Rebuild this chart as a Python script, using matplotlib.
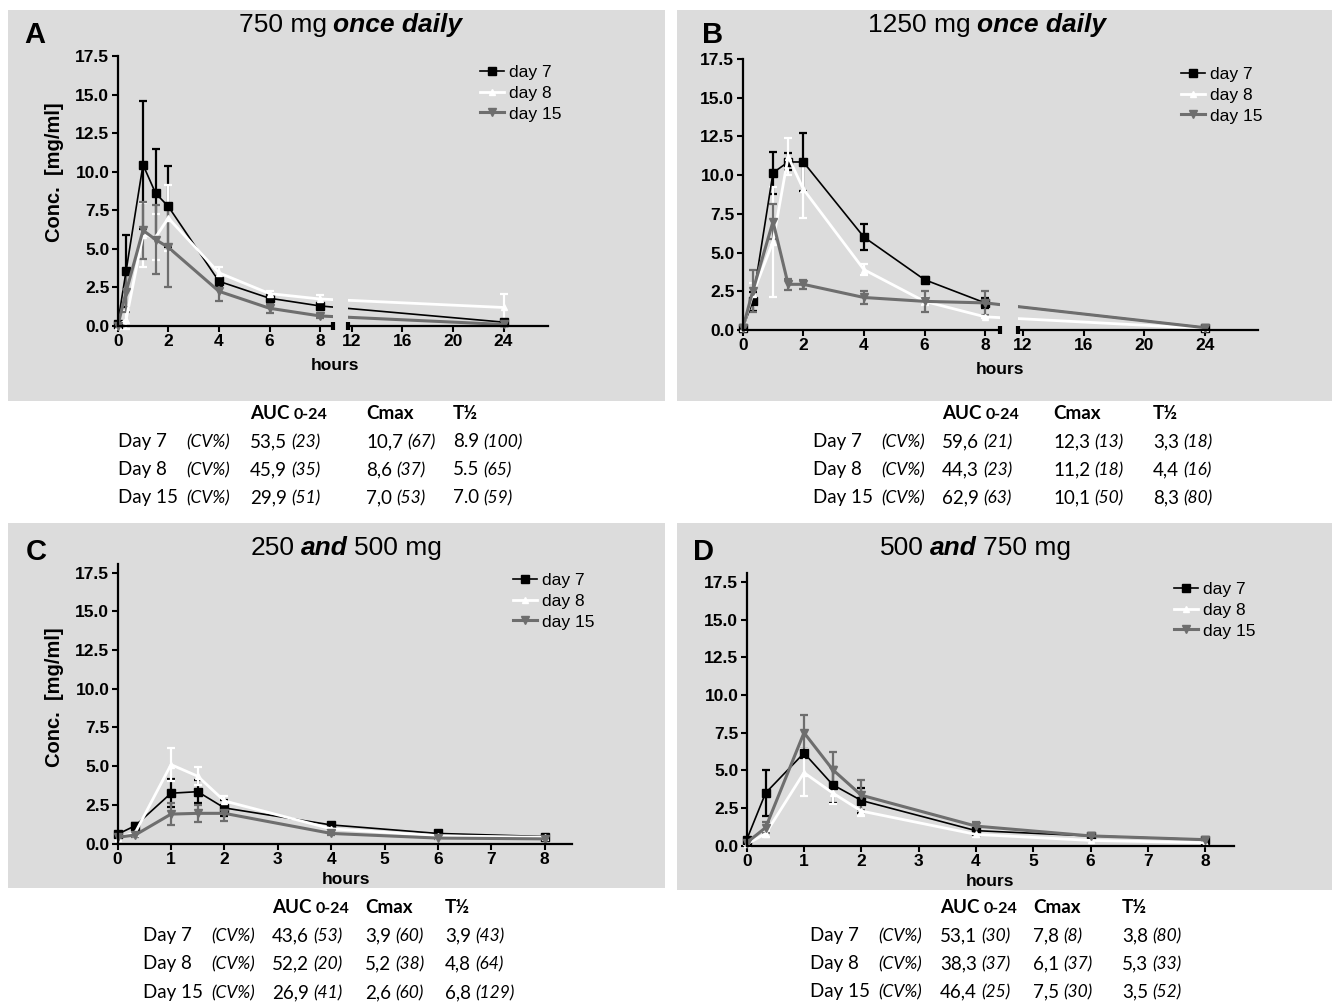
"""
Plasma concentration-time curves (day 7, 8 and 15) for four dosing groups,
each panel with a small PK summary table (AUC, Cmax, T1/2) underneath.
"""

import numpy as np
import matplotlib
matplotlib.use("Agg")
import matplotlib.pyplot as plt
from matplotlib.patches import Rectangle
from matplotlib.text import Annotation


# Sampling times (hours)
hours_ab = [0, 0.33, 1, 1.5, 2, 4, 6, 8, 24]
hours_cd = [0, 0.33, 1, 1.5, 2, 4, 6, 8]

# Panel A: 750 mg once daily (mean, sd)
a_day7 = [0.15, 3.55, 10.45, 8.6, 7.75, 2.9, 1.8, 1.3, 0.25]
a_day7_sd = [0.1, 2.35, 4.15, 2.9, 2.65, 0.35, 0.3, 0.2, 0.15]
a_day8 = [0.0, 0.4, 5.9, 5.75, 7.0, 3.45, 2.1, 1.75, 1.2]
a_day8_sd = [0.0, 0.6, 2.05, 1.5, 2.15, 0.4, 0.2, 0.25, 0.9]
a_day15 = [0.0, 2.2, 6.2, 5.6, 5.1, 2.25, 1.15, 0.65, 0.1]
a_day15_sd = [0.0, 1.3, 1.85, 2.25, 2.55, 0.65, 0.3, 0.15, 0.1]

# Panel B: 1250 mg once daily
b_day7 = [0.1, 1.85, 10.15, 10.85, 10.85, 6.0, 3.25, 1.75, 0.15]
b_day7_sd = [0.05, 0.6, 1.35, 0.55, 1.85, 0.85, 0.2, 0.3, 0.05]
b_day8 = [0.1, 2.3, 5.7, 11.2, 9.1, 3.9, 1.85, 0.85, 0.1]
b_day8_sd = [0.05, 0.75, 3.55, 1.2, 1.85, 0.35, 0.25, 0.1, 0.05]
b_day15 = [0.1, 2.5, 7.0, 2.95, 2.95, 2.1, 1.85, 1.75, 0.15]
b_day15_sd = [0.05, 1.35, 1.15, 0.35, 0.3, 0.45, 0.7, 0.75, 0.05]

# Panel C: 250 and 500 mg
c_day7 = [0.6, 1.15, 3.25, 3.35, 2.3, 1.2, 0.65, 0.45]
c_day7_sd = [0.1, 0.2, 0.9, 0.75, 0.5, 0.15, 0.1, 0.1]
c_day8 = [0.35, 0.7, 5.1, 4.35, 2.75, 0.95, 0.5, 0.4]
c_day8_sd = [0.05, 0.1, 1.05, 0.6, 0.35, 0.1, 0.1, 0.1]
c_day15 = [0.4, 0.55, 1.9, 1.95, 1.95, 0.65, 0.35, 0.3]
c_day15_sd = [0.05, 0.1, 0.72, 0.55, 0.5, 0.1, 0.05, 0.05]

# Panel D: 500 and 750 mg
d_day7 = [0.4, 3.5, 6.15, 4.05, 3.0, 1.0, 0.65, 0.4]
d_day7_sd = [0.1, 1.55, 0.3, 1.2, 0.85, 0.2, 0.1, 0.05]
d_day8 = [0.1, 0.8, 4.85, 3.5, 2.3, 0.75, 0.35, 0.2]
d_day8_sd = [0.05, 0.2, 1.55, 0.7, 0.35, 0.15, 0.05, 0.05]
d_day15 = [0.2, 1.2, 7.5, 5.05, 3.35, 1.3, 0.65, 0.4]
d_day15_sd = [0.05, 0.35, 1.2, 1.2, 1.0, 0.3, 0.1, 0.1]

series_labels = ["day 7", "day 8", "day 15"]
row_labels = ["Day 7", "Day 8", "Day 15"]

# Tables: per row (value, cv) for AUC 0-24, Cmax, T1/2
table_a = [[("53,5", "23"), ("10,7", "67"), ("8.9", "100")],
           [("45,9", "35"), ("8,6", "37"), ("5.5", "65")],
           [("29,9", "51"), ("7,0", "53"), ("7.0", "59")]]
table_b = [[("59,6", "21"), ("12,3", "13"), ("3,3", "18")],
           [("44,3", "23"), ("11,2", "18"), ("4,4", "16")],
           [("62,9", "63"), ("10,1", "50"), ("8,3", "80")]]
table_c = [[("43,6", "53"), ("3,9", "60"), ("3,9", "43")],
           [("52,2", "20"), ("5,2", "38"), ("4,8", "64")],
           [("26,9", "41"), ("2,6", "60"), ("6,8", "129")]]
table_d = [[("53,1", "30"), ("7,8", "8"), ("3,8", "80")],
           [("38,3", "37"), ("6,1", "37"), ("5,3", "33")],
           [("46,4", "25"), ("7,5", "30"), ("3,5", "52")]]


# Figure geometry (pixels)
W, H = 1335, 1007
BG = "#dcdcdc"
GREY = "#6e6e6e"
SANS = "Liberation Sans"
TABLE_FONT = "Lato"

STYLES = [
    dict(color="black", lw=1.2, marker="s", ms=6),
    dict(color="white", lw=2.0, marker="^", ms=5),
    dict(color=GREY, lw=2.2, marker="v", ms=6),
]

# broken x axis: 0-8.5 h normal, 11.7-27.5 h at half scale
BREAK_LO, BREAK_HI = 8.5, 11.7
GAP = 9.25 + (BREAK_HI - 12) * 0.5 - BREAK_LO


def fwd(x):
    x = np.asarray(x, dtype=float)
    return np.where(x <= BREAK_LO, x,
                    np.where(x >= BREAK_HI, 9.25 + (x - 12) * 0.5,
                             BREAK_LO + (x - BREAK_LO) * GAP / (BREAK_HI - BREAK_LO)))


def inv(u):
    u = np.asarray(u, dtype=float)
    return np.where(u <= BREAK_LO, u,
                    np.where(u >= BREAK_LO + GAP, 12 + (u - 9.25) / 0.5,
                             BREAK_LO + (u - BREAK_LO) * (BREAK_HI - BREAK_LO) / GAP))


def fx(px):
    return px / W


def fy(py):
    return 1 - py / H


def chain(fig, prev, text, gap=5, **kw):
    """Put text right after another text artist, same bottom line."""
    ann = Annotation(text, xy=(1, 0), xycoords=prev, xytext=(gap, 0),
                     textcoords="offset pixels", ha="left", va="bottom", **kw)
    fig.add_artist(ann)
    return ann


def draw_panel(fig, box, hours, series, broken, ytop, legend_at, ylabel, hours_at):
    left, top, right, bottom = box
    ax = fig.add_axes([fx(left), fy(bottom), (right - left) / W, (bottom - top) / H])
    ax.set_facecolor("none")

    handles = []
    for (vals, sd), st in zip(series, STYLES):
        cont = ax.errorbar(hours, vals, yerr=sd, color=st["color"], lw=st["lw"],
                           marker=st["marker"], ms=st["ms"], mec=st["color"],
                           mfc=st["color"], ecolor=st["color"], elinewidth=1.6,
                           capsize=3, capthick=1.6, clip_on=False)
        for art in [cont[0], *cont[1], *cont[2]]:
            art.set_clip_on(False)
        handles.append(cont[0])

    if broken:
        ax.set_xscale("function", functions=(fwd, inv))
        ax.set_xlim(0, 27.5)
        ax.set_xticks([0, 2, 4, 6, 8, 12, 16, 20, 24])
        # gap in the axis and lines
        ax.add_patch(Rectangle((BREAK_LO, -0.012), BREAK_HI - BREAK_LO, 1.05,
                               transform=ax.get_xaxis_transform(), facecolor=BG,
                               edgecolor="none", clip_on=False, zorder=4))
        for xb in (BREAK_LO, BREAK_HI):
            ax.plot([xb, xb], [-0.016, 0.016], transform=ax.get_xaxis_transform(),
                    color="black", lw=3, clip_on=False, zorder=5, solid_capstyle="butt")
    else:
        ax.set_xlim(0, 8.5)
        ax.set_xticks(range(0, 9))

    ax.set_ylim(0, ytop)
    yt = np.arange(0, 17.6, 2.5)
    ax.set_yticks(yt, labels=["%.1f" % v for v in yt])

    for spine in ("top", "right"):
        ax.spines[spine].set_visible(False)
    for spine in ("left", "bottom"):
        ax.spines[spine].set_linewidth(1.6)
    ax.tick_params(direction="out", length=4, width=1.5, pad=2, labelsize=12.5)
    for lab in ax.get_xticklabels() + ax.get_yticklabels():
        lab.set_fontweight("bold")
        lab.set_family(SANS)

    leg = ax.legend(handles, series_labels, loc="upper left",
                    bbox_to_anchor=(fx(legend_at[0]), fy(legend_at[1])),
                    bbox_transform=fig.transFigure, frameon=False, borderpad=0,
                    borderaxespad=0, handlelength=1.4, handletextpad=0.25,
                    labelspacing=0.32, prop=dict(family=SANS, size=12.5))
    leg.set_zorder(6)

    if ylabel:
        fig.text(fx(ylabel[0]), fy(ylabel[1]), "Conc.  [mg/ml]", rotation=90,
                 ha="center", va="center", fontsize=14.5, fontweight="bold", family=SANS)
    fig.text(fx(hours_at[0]), fy(hours_at[1]), "hours", ha="center", va="center",
             fontsize=12.5, fontweight="bold", family=SANS)
    return ax


def draw_title(fig, letter_at, title_at, parts):
    fig.text(fx(letter_at[0]), fy(letter_at[1]), letter_at[2], fontsize=21,
             fontweight="bold", family=SANS, va="baseline")
    prev = fig.text(fx(title_at[0]), fy(title_at[1]), parts[0][0], fontsize=19,
                    family=SANS, va="baseline",
                    fontweight="bold" if parts[0][1] else "normal",
                    fontstyle="italic" if parts[0][1] else "normal")
    for text, emph in parts[1:]:
        prev = chain(fig, prev, text, gap=6, fontsize=19, family=SANS,
                     fontweight="bold" if emph else "normal",
                     fontstyle="italic" if emph else "normal")


def draw_table(fig, x_label, x_cols, y_head, row_ys, table):
    # header, baseline about 6 px below the text centre
    yb = y_head + 6
    auc = fig.text(fx(x_cols[0]), fy(yb), "AUC", fontsize=13.5, fontweight="bold",
                   family=TABLE_FONT, va="baseline")
    chain(fig, auc, "0-24", gap=4, fontsize=11.5, fontweight="bold", family=TABLE_FONT)
    fig.text(fx(x_cols[1]), fy(yb), "Cmax", fontsize=13.5, fontweight="bold",
             family=TABLE_FONT, va="baseline")
    fig.text(fx(x_cols[2]), fy(yb), "T½", fontsize=13.5, fontweight="bold",
             family=TABLE_FONT, va="baseline")

    for label, y, row in zip(row_labels, row_ys, table):
        yb = y + 6
        fig.text(fx(x_label), fy(yb), label, fontsize=13.5, family=TABLE_FONT,
                 va="baseline")
        fig.text(fx(x_label + 112), fy(yb), "(CV%)", fontsize=12.5, family=TABLE_FONT,
                 style="italic", va="baseline", ha="right")
        for xc, (val, cv) in zip(x_cols, row):
            t = fig.text(fx(xc), fy(yb), val, fontsize=13.5, family=TABLE_FONT,
                         va="baseline")
            chain(fig, t, "(%s)" % cv, gap=4, fontsize=12.5, family=TABLE_FONT,
                  style="italic")


def main():
    fig = plt.figure(figsize=(W / 100, H / 100), dpi=100)

    # grey panel backgrounds
    for x0, y0, x1, y1 in [(8, 10, 665, 401), (677, 10, 1332, 401),
                           (8, 523, 665, 888), (677, 523, 1332, 890)]:
        fig.add_artist(Rectangle((fx(x0), fy(y1)), (x1 - x0) / W, (y1 - y0) / H,
                                 transform=fig.transFigure, facecolor=BG,
                                 edgecolor="none", zorder=-1))

    draw_panel(fig, (117.7, 56, 547.8, 326), hours_ab,
               [(a_day7, a_day7_sd), (a_day8, a_day8_sd), (a_day15, a_day15_sd)],
               True, 17.5, (480, 65), (54, 172), (335, 366))
    draw_panel(fig, (742.7, 59, 1257.8, 330), hours_ab,
               [(b_day7, b_day7_sd), (b_day8, b_day8_sd), (b_day15, b_day15_sd)],
               True, 17.5, (1181, 67), None, (1000, 370))
    draw_panel(fig, (117.6, 563.5, 571.5, 843.5), hours_cd,
               [(c_day7, c_day7_sd), (c_day8, c_day8_sd), (c_day15, c_day15_sd)],
               False, 18.1, (513, 573), (54, 697), (346, 880))
    draw_panel(fig, (746.7, 573, 1233.8, 845.7), hours_cd,
               [(d_day7, d_day7_sd), (d_day8, d_day8_sd), (d_day15, d_day15_sd)],
               False, 18.1, (1174, 582), None, (990, 881))

    draw_title(fig, (24, 43, "A"), (238.6, 32), [("750 mg", False), ("once daily", True)])
    draw_title(fig, (702, 43, "B"), (868.5, 32), [("1250 mg", False), ("once daily", True)])
    draw_title(fig, (26, 560, "C"), (250.7, 555), [("250", False), ("and", True), ("500 mg", False)])
    draw_title(fig, (693, 560, "D"), (880, 555), [("500", False), ("and", True), ("750 mg", False)])

    draw_table(fig, 118, [250, 366, 453], 413, [441, 469, 497], table_a)
    draw_table(fig, 813, [942, 1053, 1153], 413, [441, 469, 497], table_b)
    draw_table(fig, 143, [272, 365, 445], 907, [935, 963, 992], table_c)
    draw_table(fig, 810, [940, 1033, 1122], 907, [935, 963, 991], table_d)

    fig.savefig("out.png", dpi=100)
    plt.close(fig)


if __name__ == "__main__":
    main()
